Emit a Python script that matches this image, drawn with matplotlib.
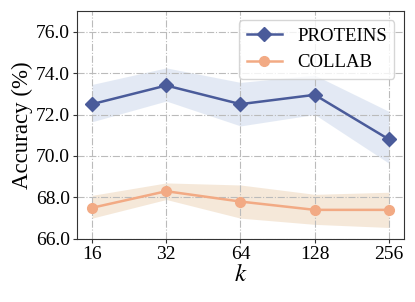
import numpy as np
import matplotlib
matplotlib.use("Agg")
import matplotlib.pyplot as plt

# --- Data ---
k_labels = ["16", "32", "64", "128", "256"]
proteins_mean = [72.5, 73.4, 72.5, 72.95, 70.8]
proteins_upper = [73.45, 74.25, 73.55, 73.9, 72.15]
proteins_lower = [71.65, 72.65, 71.45, 72.0, 69.65]
collab_mean = [67.5, 68.3, 67.8, 67.4, 67.4]
collab_upper = [68.1, 68.7, 68.6, 68.15, 68.25]
collab_lower = [67.0, 67.9, 67.0, 66.7, 66.55]

plt.rcParams['font.family'] = ['Liberation Serif', 'DejaVu Serif']
plt.rcParams['mathtext.fontset'] = 'stix'

blue = '#4a5b9a'
orange = '#f2aa84'

fig, ax = plt.subplots(figsize=(4.15, 3.02), dpi=100)
x = np.arange(len(k_labels))

ax.fill_between(x, proteins_lower, proteins_upper, color='#c8d5ea', alpha=0.5, lw=0)
ax.fill_between(x, collab_lower, collab_upper, color='#ecd2b4', alpha=0.5, lw=0)
ax.plot(x, proteins_mean, color=blue, marker='D', markersize=7, lw=1.8, label='PROTEINS')
ax.plot(x, collab_mean, color=orange, marker='o', markersize=7, lw=1.8, label='COLLAB')

ax.set_xticks(x)
ax.set_xticklabels(k_labels)
ax.set_xlim(-0.2, 4.2)
ax.set_ylim(66, 77)
ax.set_yticks([66, 68, 70, 72, 74, 76])
ax.set_yticklabels([f"{v:.1f}" for v in [66, 68, 70, 72, 74, 76]])
ax.tick_params(labelsize=14, color='#333333', length=3, pad=2)
ax.grid(True, linestyle='-.', color='#bbbbbb', lw=0.8)
for s in ax.spines.values():
    s.set_color('#333333')

ax.set_xlabel('$k$', fontsize=18, labelpad=1)
ax.set_ylabel('Accuracy (%)', fontsize=16.5, labelpad=2)
ax.legend(loc='upper right', fontsize=13.5, framealpha=0.8,
          borderaxespad=0.5, handlelength=1.9)

fig.subplots_adjust(left=0.186, right=0.973, top=0.964, bottom=0.209)
fig.savefig('out.png', dpi=100)
